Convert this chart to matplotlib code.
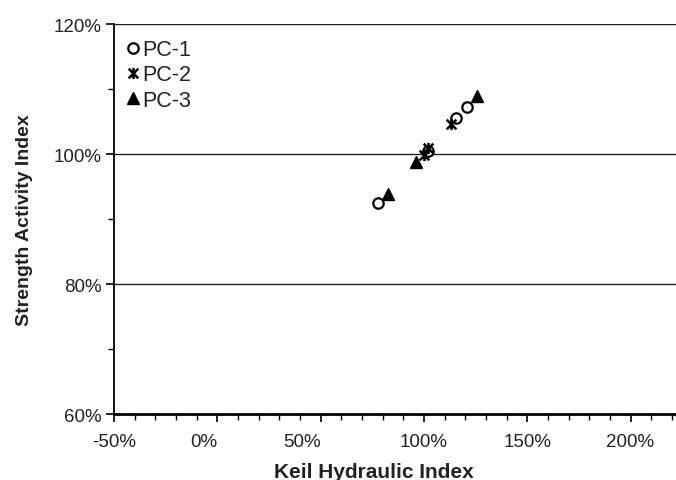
import numpy as np
import matplotlib
matplotlib.use('Agg')
import matplotlib.pyplot as plt
from matplotlib.path import Path
from matplotlib.ticker import MultipleLocator, FuncFormatter

plt.rcParams['font.family'] = ['Liberation Sans', 'DejaVu Sans']

# Keil hydraulic index (x) vs strength activity index (y), as fractions
pc1_x = [0.78, 1.02, 1.155, 1.207]
pc1_y = [0.925, 1.005, 1.056, 1.072]
pc2_x = [1.00, 1.02, 1.131]
pc2_y = [0.998, 1.010, 1.046]
pc3_x = [0.825, 0.962, 1.255]
pc3_y = [0.9385, 0.988, 1.090]

# Excel-style star marker: X plus a vertical bar
star = Path([(-1, -1), (1, 1), (-1, 1), (1, -1), (0, -1.15), (0, 1.15)],
            [Path.MOVETO, Path.LINETO, Path.MOVETO, Path.LINETO, Path.MOVETO, Path.LINETO])

fig = plt.figure(figsize=(6.76, 4.81), dpi=100)
ax = fig.add_axes([0.1686, 0.1372, 0.8314, 0.8108])

for y in [0.8, 1.0, 1.2]:
    ax.axhline(y, color='#222222', lw=1.0, zorder=1)

ax.plot(pc1_x, pc1_y, 'o', ls='none', mfc='white', mec='black', mew=1.6, ms=7.5, label='PC-1', zorder=3)
ax.plot(pc2_x, pc2_y, marker=star, ls='none', mec='black', mew=1.8, ms=8, label='PC-2', zorder=4)
ax.plot(pc3_x, pc3_y, '^', ls='none', color='black', ms=8, label='PC-3', zorder=3)

ax.set_xlim(-0.5, 2.22)
ax.set_ylim(0.6, 1.2)
ax.xaxis.set_major_locator(MultipleLocator(0.5))
ax.xaxis.set_minor_locator(MultipleLocator(0.1))
ax.yaxis.set_major_locator(MultipleLocator(0.2))
ax.yaxis.set_minor_locator(MultipleLocator(0.1))
pct = FuncFormatter(lambda v, p: '%d%%' % round(v * 100))
ax.xaxis.set_major_formatter(pct)
ax.yaxis.set_major_formatter(pct)

for s in ['top', 'right']:
    ax.spines[s].set_visible(False)
ax.spines['left'].set_linewidth(1.3)
ax.spines['bottom'].set_linewidth(2.0)
ax.tick_params(axis='both', which='major', direction='out', length=6, width=1.2,
               labelsize=13.5, labelcolor='#222222')
ax.tick_params(axis='both', which='minor', direction='out', length=4, width=1.0)
ax.tick_params(axis='x', pad=8)
ax.tick_params(axis='y', pad=3)

fig.canvas.draw()
for lab in ax.get_xticklabels():
    if lab.get_text() in ('0%', '50%'):
        lab.set_ha('right')

ax.set_xlabel('Keil Hydraulic Index', fontsize=15, fontweight='bold', color='#222222')
ax.xaxis.set_label_coords(0.4626, -0.123, transform=ax.transAxes)
ax.xaxis.label.set_va('top')
ax.set_ylabel('Strength Activity Index', fontsize=14, fontweight='bold', color='#222222', labelpad=15)

ax.legend(loc='upper left', frameon=False, fontsize=15.5, handlelength=0.55, handletextpad=0.12,
          labelspacing=0.2, borderaxespad=0.3, bbox_to_anchor=(-0.003, 1.0), labelcolor='#222222')

fig.savefig('out.png', dpi=100)
